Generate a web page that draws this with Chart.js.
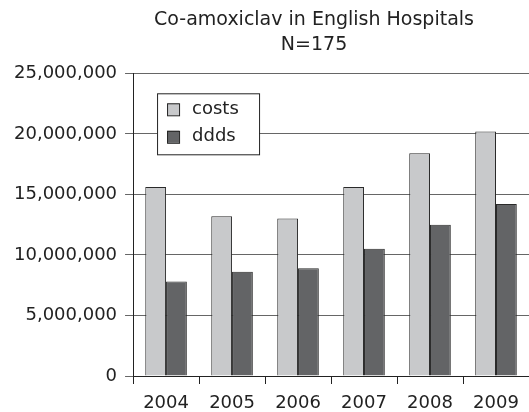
<!DOCTYPE html>
<html>
<head>
<meta charset="utf-8">
<script src="https://cdn.jsdelivr.net/npm/chart.js@4/dist/chart.umd.min.js"></script>
<style>
  html, body { margin: 0; padding: 0; background: #fff; }
  #wrap { width: 529px; height: 412px; }
</style>
</head>
<body>
<div id="wrap"><canvas id="chart"></canvas></div>
<script>
const years = ['2004', '2005', '2006', '2007', '2008', '2009'];
const costs = [15600000, 13200000, 13000000, 15600000, 18400000, 20200000];
const ddds = [7800000, 8600000, 8900000, 10500000, 12500000, 14200000];
const titleLines = ['Co-amoxiclav in English Hospitals', 'N=175'];

const FONT = "'DejaVu Sans', sans-serif";

// legend drawn inside the plot area, boxed like the original
const boxLegend = {
    id: 'boxLegend',
    afterLayout(chart) {
        // original title sits a bit left of the plot centre
        if (chart.titleBlock) chart.titleBlock.right = chart.chartArea.right - 34;
    },
    afterDraw(chart) {
        const c = chart.ctx;
        const a = chart.chartArea;
        const x = a.left + 24, y = a.top + 20, w = 102, h = 61;
        c.save();
        c.fillStyle = '#fff';
        c.fillRect(x, y, w, h);
        c.strokeStyle = '#222';
        c.lineWidth = 1;
        c.strokeRect(x + 0.5, y + 0.5, w, h);
        c.font = '18px ' + FONT;
        c.textBaseline = 'middle';
        chart.data.datasets.forEach((ds, i) => {
            const cy = y + 16 + i * 27.5;
            c.fillStyle = ds.backgroundColor;
            c.fillRect(x + 10, cy - 6, 12, 12);
            c.strokeStyle = '#222';
            c.strokeRect(x + 10.5, cy - 5.5, 12, 12);
            c.fillStyle = '#222';
            c.fillText(ds.label, x + 35, cy);
        });
        c.restore();
    }
};

const ctx = document.getElementById('chart').getContext('2d');
new Chart(ctx, {
    type: 'bar',
    data: {
        labels: years,
        datasets: [{
            label: 'costs',
            data: costs,
            backgroundColor: '#c8c9cb',
            borderColor: '#2a2a2a',
            borderWidth: 1,
            categoryPercentage: 0.63,
            barPercentage: 1
        }, {
            label: 'ddds',
            data: ddds,
            backgroundColor: '#636466',
            borderColor: '#2a2a2a',
            borderWidth: 1,
            categoryPercentage: 0.63,
            barPercentage: 1
        }]
    },
    options: {
        responsive: true,
        maintainAspectRatio: false,
        animation: false,
        layout: {
            padding: { left: 6, right: 0, top: 0, bottom: -10 }
        },
        plugins: {
            legend: { display: false },
            tooltip: { enabled: false },
            title: {
                display: true,
                text: titleLines,
                fullSize: false,
                color: '#222',
                font: { family: FONT, size: 19, weight: 'normal', lineHeight: 1.35 },
                padding: { top: 7, bottom: 15 }
            }
        },
        scales: {
            x: {
                grid: {
                    drawOnChartArea: false,
                    color: '#222',
                    tickLength: 8,
                    offset: true
                },
                border: { color: '#222', width: 1 },
                ticks: {
                    color: '#222',
                    font: { family: FONT, size: 18, lineHeight: 1 },
                    padding: 10
                }
            },
            y: {
                min: 0,
                max: 25000000,
                grid: {
                    color: '#666',
                    tickLength: 8
                },
                border: { color: '#222', width: 1 },
                ticks: {
                    stepSize: 5000000,
                    color: '#222',
                    font: { family: FONT, size: 18, lineHeight: 0.4 },
                    padding: 8,
                    callback: v => v.toLocaleString('en-US')
                }
            }
        }
    },
    plugins: [boxLegend]
});
</script>
</body>
</html>
